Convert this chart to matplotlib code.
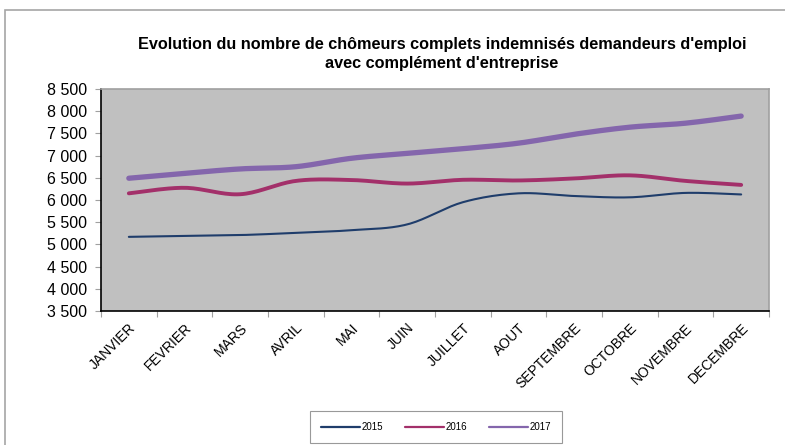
import numpy as np
from matplotlib import pyplot as plt
from matplotlib.patches import Rectangle

plt.rcParams["font.family"] = ["Liberation Sans", "DejaVu Sans"]

months = ["JANVIER", "FEVRIER", "MARS", "AVRIL", "MAI", "JUIN", "JUILLET",
          "AOUT", "SEPTEMBRE", "OCTOBRE", "NOVEMBRE", "DECEMBRE"]
y2015 = [5170, 5190, 5210, 5260, 5320, 5450, 5950, 6150, 6090, 6060, 6160, 6125]
y2016 = [6150, 6275, 6130, 6430, 6450, 6370, 6455, 6440, 6485, 6555, 6430, 6340]
y2017 = [6490, 6600, 6700, 6750, 6940, 7050, 7155, 7280, 7480, 7640, 7730, 7890]
yticks = list(range(3500, 8501, 500))


def smooth(xs, ys, n=20):
    """Catmull-Rom curve through the points, like Excel smoothed lines."""
    xs = np.asarray(xs, float)
    ys = np.asarray(ys, float)
    px = np.concatenate([[xs[0]], xs, [xs[-1]]])
    py = np.concatenate([[ys[0]], ys, [ys[-1]]])
    outx, outy = [], []
    t = np.linspace(0, 1, n)
    for i in range(1, len(px) - 2):
        p0, p1, p2, p3 = (np.array([px[j], py[j]]) for j in (i - 1, i, i + 1, i + 2))
        c1 = p1 + (p2 - p0) / 6
        c2 = p2 - (p3 - p1) / 6
        pts = ((1 - t) ** 3)[:, None] * p1 + (3 * (1 - t) ** 2 * t)[:, None] * c1 \
            + (3 * (1 - t) * t ** 2)[:, None] * c2 + (t ** 3)[:, None] * p2
        outx.extend(pts[:, 0])
        outy.extend(pts[:, 1])
    return outx, outy


fig = plt.figure(figsize=(7.85, 4.45), dpi=100)
fig.patches.append(Rectangle((5 / 785, -0.1), 1.1, (445 - 10) / 445 + 0.1,
                             transform=fig.transFigure, fill=False,
                             edgecolor="#a6a6a6", linewidth=1.2))
ax = fig.add_axes([101 / 785, 1 - 311 / 445, 668 / 785, 222 / 445])
ax.set_facecolor("#c0c0c0")

x = np.arange(len(months))
series = [(y2015, "#1f3d6b", 1.5, "2015"),
          (y2016, "#a3306a", 2.8, "2016"),
          (y2017, "#8466ac", 3.8, "2017")]
for ys, col, lw, lab in series:
    sx, sy = smooth(x, ys)
    ax.plot(sx, sy, color=col, linewidth=lw, label=lab, solid_capstyle="round")

ax.set_xlim(-0.5, len(months) - 0.5)
ax.set_ylim(3500, 8500)
ax.set_yticks(yticks)
ax.set_yticklabels([f"{v:,}".replace(",", " ") for v in yticks], fontsize=11.5)

# category boundaries carry the tick marks, labels sit at the centres
ax.set_xticks(list(x - 0.5) + [len(months) - 0.5])
ax.set_xticklabels([])
ax.set_xticks(x, minor=True)
ax.set_xticklabels(months, minor=True, fontsize=10)
for lbl in ax.get_xticklabels(minor=True):
    lbl.set_rotation(45)
    lbl.set_ha("right")
    lbl.set_va("top")
    lbl.set_rotation_mode("anchor")
ax.tick_params(axis="x", which="minor", length=0, pad=7)
ax.tick_params(axis="x", which="major", length=4, color="#a0a0a0")
ax.tick_params(axis="y", length=4, color="#a0a0a0", pad=6)
for side in ["left", "bottom"]:
    ax.spines[side].set_color("black")
    ax.spines[side].set_linewidth(1.2)
for side in ["top", "right"]:
    ax.spines[side].set_color("#a0a0a0")
    ax.spines[side].set_linewidth(1.2)

fig.text(0.563, 1 - 54 / 445,
         "Evolution du nombre de chômeurs complets indemnisés demandeurs d'emploi\navec complément d'entreprise",
         ha="center", va="center", fontsize=11.7, fontweight="bold", linespacing=1.3)

leg = fig.legend(loc="center", bbox_to_anchor=(436 / 785, 1 - 427 / 445), ncol=3,
                 fontsize=7, frameon=True, fancybox=False, edgecolor="#808080",
                 handlelength=4, handletextpad=0.2, columnspacing=2.2, borderpad=1.1)
leg.get_frame().set_linewidth(0.8)
for line in leg.get_lines():
    line.set_linewidth(1.6)

fig.savefig("out.png", dpi=100)
